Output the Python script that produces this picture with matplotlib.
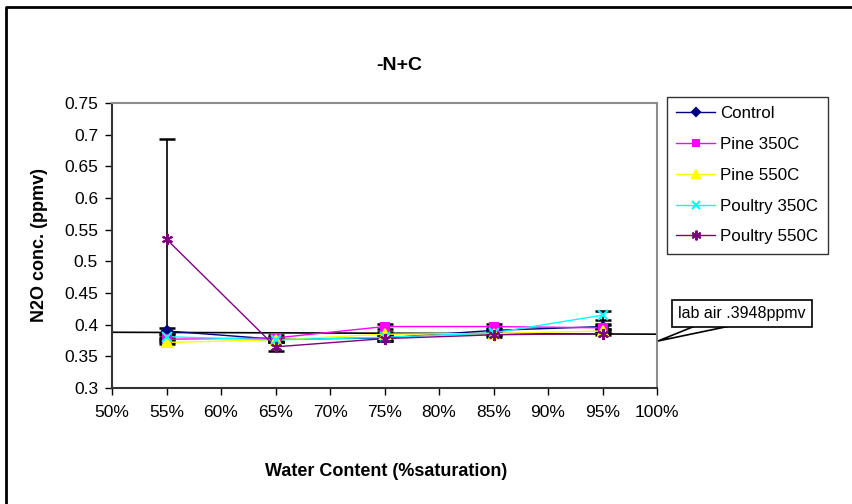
import matplotlib
matplotlib.use("Agg")
import matplotlib.pyplot as plt
from matplotlib.lines import Line2D
from matplotlib.patches import Rectangle, Polygon

plt.rcParams['font.family'] = ['Liberation Sans', 'DejaVu Sans']

water = [55, 65, 75, 85, 95]
control = [0.390, 0.377, 0.379, 0.391, 0.397]
pine350 = [0.377, 0.379, 0.397, 0.397, 0.395]
pine550 = [0.372, 0.376, 0.385, 0.386, 0.390]
poultry350 = [0.381, 0.376, 0.380, 0.387, 0.415]
poultry550 = [0.535, 0.365, 0.378, 0.384, 0.386]

control_err = [0.004, 0.004, 0.004, 0.004, 0.004]
pine350_err = [0.004, 0.004, 0.004, 0.004, 0.004]
pine550_err = [0.003, 0.003, 0.003, 0.003, 0.003]
poultry350_err = [0.004, 0.004, 0.004, 0.004, 0.007]
poultry550_err = [0.158, 0.007, 0.004, 0.003, 0.003]

labair_x = [50, 100]
labair_y = [0.388, 0.385]

xticks = [50, 55, 60, 65, 70, 75, 80, 85, 90, 95, 100]
yticks = [0.3, 0.35, 0.4, 0.45, 0.5, 0.55, 0.6, 0.65, 0.7, 0.75]
ytick_labels = ['0.3', '0.35', '0.4', '0.45', '0.5', '0.55', '0.6', '0.65', '0.7', '0.75']

W, H = 852, 504
fig = plt.figure(figsize=(W / 100, H / 100), dpi=100)
ax = fig.add_axes([112 / W, 1 - 388 / H, (657 - 112) / W, (388 - 103) / H])

series = [
    ('Control', control, control_err, '#000080', 'D', 5),
    ('Pine 350C', pine350, pine350_err, '#FF00FF', 's', 6),
    ('Pine 550C', pine550, pine550_err, '#FFFF00', '^', 7),
    ('Poultry 350C', poultry350, poultry350_err, '#00FFFF', 'x', 7),
    ('Poultry 550C', poultry550, poultry550_err, '#800080', (6, 2, 0), 8),
]

ax.plot(labair_x, labair_y, color='black', lw=1.2, zorder=2)

handles = []
for name, vals, err, col, mk, ms in series:
    ax.errorbar(water, vals, yerr=err, fmt='none', ecolor='black',
                elinewidth=1.2, capsize=6, capthick=1.8, zorder=3)
    ax.plot(water, vals, color=col, lw=1.0, zorder=4)
    ax.plot(water, vals, linestyle='none', marker=mk, markersize=ms,
            color=col, markeredgecolor=col, markeredgewidth=1.5, zorder=5)
    handles.append(Line2D([], [], color=col, lw=1.0, marker=mk, markersize=ms - 1,
                          markeredgecolor=col, markeredgewidth=1.5))

ax.set_xlim(50, 100)
ax.set_ylim(0.3, 0.75)
ax.set_xticks(xticks)
ax.set_xticklabels([f'{t}%' for t in xticks])
ax.set_yticks(yticks)
ax.set_yticklabels(ytick_labels)
ax.tick_params(axis='both', direction='out', length=5, width=1, labelsize=12.5,
               colors='black')
ax.tick_params(axis='x', pad=7)
ax.tick_params(axis='y', pad=5)
for s in ['top', 'right']:
    ax.spines[s].set_color('#8c8c8c')
    ax.spines[s].set_linewidth(1.5)
for s in ['left', 'bottom']:
    ax.spines[s].set_color('#333333')
    ax.spines[s].set_linewidth(1.5)

fig.text(399 / W, 1 - 65 / H, '-N+C', fontsize=14, fontweight='bold',
         ha='center', va='center')
fig.text(40 / W, 1 - 245 / H, 'N2O conc. (ppmv)', fontsize=13, fontweight='bold',
         ha='center', va='center', rotation=90)
fig.text(386 / W, 1 - 472 / H, 'Water Content (%saturation)', fontsize=13,
         fontweight='bold', ha='center', va='center')

leg = fig.legend(handles, [s[0] for s in series], loc='upper left',
                 bbox_to_anchor=(667 / W, 1 - 97 / H), fontsize=12.2,
                 frameon=True, fancybox=False, edgecolor='black',
                 handlelength=2.3, handletextpad=0.3, labelspacing=0.93,
                 borderpad=0.55, borderaxespad=0)
leg.get_frame().set_linewidth(1.0)

def px(x, y):
    return (x / W, 1 - y / H)

# callout for lab air
fig.patches.append(Polygon([px(695, 326), px(658, 341), px(730, 326)], closed=False,
                           facecolor='white', edgecolor='black', lw=1.2,
                           transform=fig.transFigure, zorder=5))
fig.patches.append(Rectangle(px(672, 327), (812 - 672) / W, (327 - 300) / H,
                             facecolor='white', edgecolor='black', lw=1.2,
                             transform=fig.transFigure, zorder=6))
fig.text(742 / W, 1 - 313.5 / H, 'lab air .3948ppmv', fontsize=11.5,
         ha='center', va='center', zorder=7)

# outer border (left and top)
fig.lines.append(Line2D([6 / W, 6 / W, 1], [0, 1 - 7 / H, 1 - 7 / H],
                        color='black', lw=2, transform=fig.transFigure))

fig.savefig('out.png', dpi=100)
